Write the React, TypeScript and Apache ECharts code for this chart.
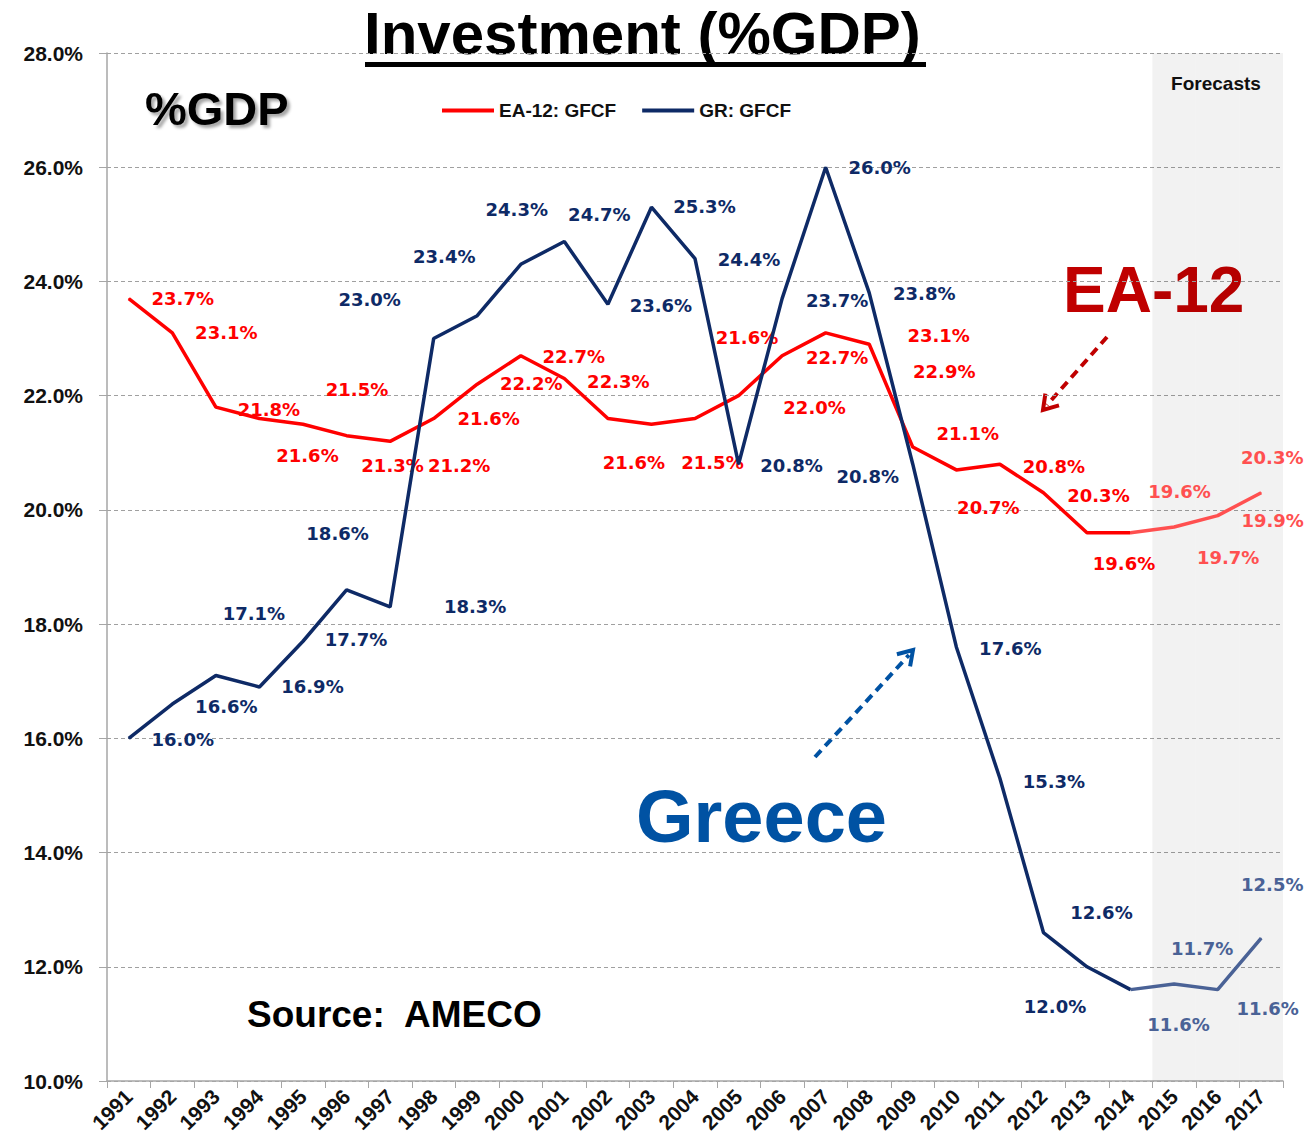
import React, { useEffect, useRef } from "react";
import * as echarts from "echarts";

const years = ["1991","1992","1993","1994","1995","1996","1997","1998","1999","2000","2001","2002","2003","2004","2005","2006","2007","2008","2009","2010","2011","2012","2013","2014","2015","2016","2017"];
const ea12Values = [23.7,23.1,21.8,21.6,21.5,21.3,21.2,21.6,22.2,22.7,22.3,21.6,21.5,21.6,22.0,22.7,23.1,22.9,21.1,20.7,20.8,20.3,19.6,19.6,19.7,19.9,20.3];
const grValues = [16.0,16.6,17.1,16.9,17.7,18.6,18.3,23.0,23.4,24.3,24.7,23.6,25.3,24.4,20.8,23.7,26.0,23.8,20.8,17.6,15.3,12.6,12.0,11.6,11.7,11.6,12.5];
const forecastYears = ["2015","2016","2017"];
const yTicks = { min: 10, max: 28, interval: 2 };

// label placement (layout only)
const ea12LabelOffsets = [[54,0],[54,0],[53,2],[48,37],[54,-35],[46,30],[69,24],[55,0],[54,-1],[53,1],[54,3],[26,44],[61,38],[52,-81],[76,12],[55,2],[113,3],[75,27],[55,-14],[32,38],[54,2],[55,3],[37,31],[49,-41],[54,30],[55,5],[11,-35]];
const grLabelOffsets = [[54,1],[54,2],[38,-62],[53,0],[53,-2],[-9,-56],[85,0],[-64,-39],[-33,-59],[-4,-55],[35,-27],[53,1],[53,-1],[54,1],[53,1],[55,2],[54,0],[55,1],[-45,12],[54,2],[54,3],[58,-20],[-32,40],[48,35],[28,-35],[50,19],[11,-54]];

const RED = "#FF0000";
const RED_LIGHT = "#FF5050";
const NAVY = "#0E2A66";
const NAVY_LIGHT = "#4A6296";
const AXIS_FONT = "Liberation Sans";

export default function App() {
  const ref = useRef<HTMLDivElement>(null);
  useEffect(() => {
    if (!ref.current) return;
    const chart = echarts.init(ref.current, null, { renderer: "svg" });
    const firstForecast = years.indexOf(forecastYears[0]);
    const lightLabelFrom = firstForecast - 1;
    const mkData = (vals: number[], offs: number[][], c: string, cl: string, part: "actual" | "forecast") =>
      vals.map((v, i) => {
        const inPart = part === "actual" ? i < firstForecast : i >= firstForecast - 1;
        if (!inPart) return "-";
        const showLabel = part === "actual" ? true : i >= firstForecast;
        return {
          value: v,
          label: { show: showLabel, offset: offs[i], color: i >= lightLabelFrom ? cl : c },
        };
      });
    const labelBase = {
      show: true,
      position: "inside",
      fontFamily: "DejaVu Sans",
      fontWeight: "bold",
      fontSize: 18,
      formatter: (p: any) => Number(p.value).toFixed(1) + "%",
    };
    const lineSeries = (name: string, vals: number[], offs: number[][], c: string, cl: string, part: "actual" | "forecast", z: number) => ({
      name,
      type: "line",
      data: mkData(vals, offs, c, cl, part),
      symbol: "circle",
      symbolSize: 1,
      showSymbol: true,
      itemStyle: { color: part === "actual" ? c : cl },
      lineStyle: { width: 3.5, color: part === "actual" ? c : cl },
      label: { ...labelBase, color: c },
      z,
    });
    const option: any = {
      animation: false,
      backgroundColor: "#fff",
      grid: { left: 107, right: 32, top: 53, bottom: 66, containLabel: false },
      legend: {
        data: ["EA-12: GFCF", "GR: GFCF"],
        left: 437,
        top: 96,
        icon: "rect",
        itemWidth: 52,
        itemHeight: 4,
        itemGap: 26,
        textStyle: { fontFamily: AXIS_FONT, fontWeight: "bold", fontSize: 19, color: "#111" },
      },
      xAxis: {
        type: "category",
        data: years,
        boundaryGap: true,
        axisLine: { lineStyle: { color: "#A6A6A6", width: 1.5 } },
        axisTick: { show: true, length: 7, interval: 0, lineStyle: { color: "#A6A6A6" } },
        axisLabel: {
          interval: 0,
          rotate: 45,
          margin: 12,
          fontFamily: AXIS_FONT,
          fontWeight: "bold",
          fontSize: 21,
          color: "#111",
        },
        splitLine: { show: false },
      },
      yAxis: {
        type: "value",
        min: yTicks.min,
        max: yTicks.max,
        interval: yTicks.interval,
        axisLine: { show: true, lineStyle: { color: "#A6A6A6", width: 1.5 } },
        axisTick: { show: true, length: 8, lineStyle: { color: "#A6A6A6" } },
        axisLabel: {
          margin: 24,
          fontFamily: AXIS_FONT,
          fontWeight: "bold",
          fontSize: 21,
          color: "#111",
          formatter: (v: number) => v.toFixed(1) + "%",
        },
        splitLine: { show: true, lineStyle: { color: "#A0A0A0", type: [4, 3], width: 1 } },
      },
      series: [
        {
          name: "Forecasts",
          type: "bar",
          silent: true,
          barWidth: "100%",
          barCategoryGap: "0%",
          data: years.map((y) => (forecastYears.includes(y) ? yTicks.max : "-")),
          itemStyle: { color: "rgba(0,0,0,0.05)" },
          z: 1,
        },
        lineSeries("EA-12: GFCF", ea12Values, ea12LabelOffsets, RED, RED_LIGHT, "actual", 3),
        lineSeries("EA-12 forecast", ea12Values, ea12LabelOffsets, RED, RED_LIGHT, "forecast", 3),
        lineSeries("GR: GFCF", grValues, grLabelOffsets, NAVY, NAVY_LIGHT, "actual", 4),
        lineSeries("GR forecast", grValues, grLabelOffsets, NAVY, NAVY_LIGHT, "forecast", 4),
      ],
      graphic: [
        {
          type: "text",
          x: 364,
          y: 33,
          style: {
            text: "Investment (%GDP)",
            fontFamily: AXIS_FONT,
            fontWeight: "bold",
            fontSize: 60,
            fill: "#000",
            verticalAlign: "middle",
          },
        },
        { type: "rect", shape: { x: 365, y: 62, width: 561, height: 5 }, style: { fill: "#000" } },
        {
          type: "text",
          x: 145,
          y: 108,
          style: {
            text: "%GDP",
            fontFamily: AXIS_FONT,
            fontWeight: "bold",
            fontSize: 47,
            fill: "#000",
            verticalAlign: "middle",
            textShadowColor: "rgba(0,0,0,0.35)",
            textShadowOffsetX: 3,
            textShadowOffsetY: 3,
            textShadowBlur: 3,
          },
        },
        {
          type: "text",
          x: 1216,
          y: 83,
          style: {
            text: "Forecasts",
            fontFamily: AXIS_FONT,
            fontWeight: "bold",
            fontSize: 19,
            fill: "#111",
            align: "center",
            verticalAlign: "middle",
          },
        },
        {
          type: "text",
          x: 1063,
          y: 290,
          style: {
            text: "EA-12",
            fontFamily: AXIS_FONT,
            fontWeight: "bold",
            fontSize: 64,
            fill: "#C00000",
            verticalAlign: "middle",
          },
        },
        {
          type: "text",
          x: 636,
          y: 816,
          style: {
            text: "Greece",
            fontFamily: AXIS_FONT,
            fontWeight: "bold",
            fontSize: 74,
            fill: "#0052A3",
            verticalAlign: "middle",
          },
        },
        {
          type: "text",
          x: 247,
          y: 1014,
          style: {
            text: "Source:  AMECO",
            fontFamily: AXIS_FONT,
            fontWeight: "bold",
            fontSize: 37,
            fill: "#000",
            verticalAlign: "middle",
          },
        },
        {
          type: "line",
          shape: { x1: 1107, y1: 337, x2: 1047, y2: 405 },
          style: { stroke: "#C00000", lineWidth: 4, lineDash: [9, 6] },
        },
        {
          type: "polyline",
          shape: { points: [[1045.4, 393.6], [1043, 410], [1059, 405.4]] },
          style: { stroke: "#C00000", lineWidth: 4, fill: "none" },
        },
        {
          type: "line",
          shape: { x1: 815, y1: 757, x2: 909, y2: 655 },
          style: { stroke: "#0052A3", lineWidth: 4, lineDash: [9, 6] },
        },
        {
          type: "polyline",
          shape: { points: [[896.9, 654.2], [913, 650], [910.1, 666.4]] },
          style: { stroke: "#0052A3", lineWidth: 4, fill: "none" },
        },
      ],
    };
    chart.setOption(option);
    return () => chart.dispose();
  }, []);
  return (
    <div
      ref={ref}
      style={{ position: "absolute", left: 0, top: 0, width: 1315, height: 1147 }}
    />
  );
}
